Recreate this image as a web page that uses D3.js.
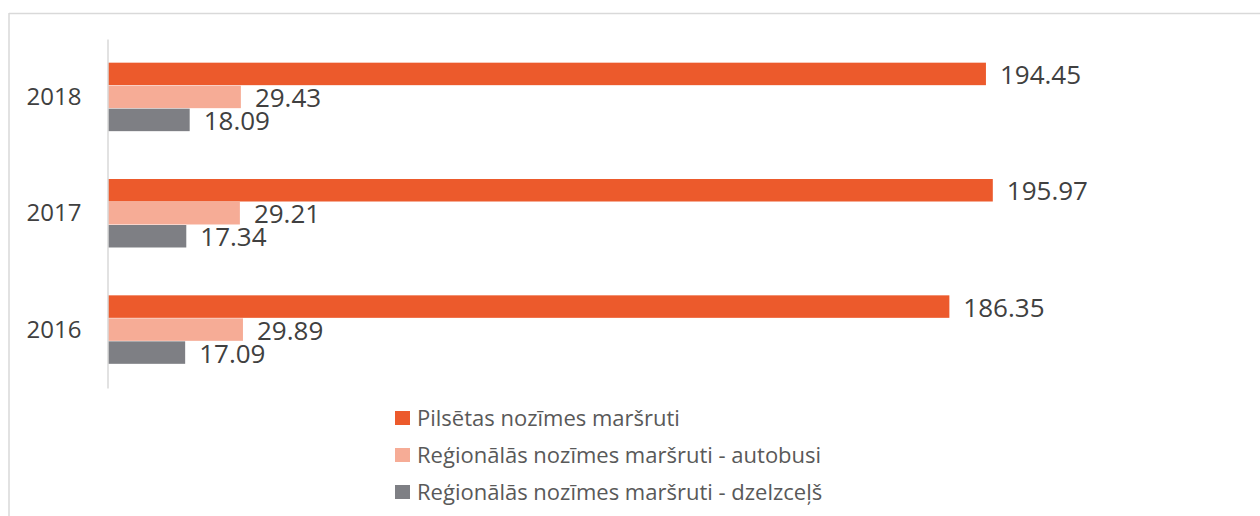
<!DOCTYPE html>
<html>
<head>
<meta charset="utf-8">
<script src="https://cdn.jsdelivr.net/npm/d3@7"></script>
<style>
  body { margin: 0; background: #fff; }
  text { font-family: "Open Sans", sans-serif; fill: #404040; }
</style>
</head>
<body>
<svg id="chart" width="1260" height="516"></svg>
<script>
// data
var years = ["2018", "2017", "2016"];
var seriesNames = ["Pilsētas nozīmes maršruti", "Reģionālās nozīmes maršruti - autobusi", "Reģionālās nozīmes maršruti - dzelzceļš"];
var pilsetas = [194.45, 195.97, 186.35];
var autobusi = [29.43, 29.21, 29.89];
var dzelzcels = [18.09, 17.34, 17.09];
var colors = ["#EC5A2C", "#F6AC96", "#7E7F84"];

var seriesVals = [pilsetas, autobusi, dzelzcels];

var svg = d3.select("#chart");

// chart area border (top + left visible)
svg.append("line").attr("x1", 9).attr("x2", 1260).attr("y1", 13.5).attr("y2", 13.5)
  .attr("stroke", "#d9d9d9").attr("stroke-width", 1.5);
svg.append("line").attr("x1", 9).attr("x2", 9).attr("y1", 13).attr("y2", 516)
  .attr("stroke", "#d9d9d9").attr("stroke-width", 1.5);

var x = d3.scaleLinear().domain([0, 250]).range([108, 108 + 250 * 4.515]);

var y = d3.scaleBand().domain(years).range([39, 388])
  .paddingInner(0.407).paddingOuter(0.2035);

var ySub = d3.scaleBand().domain(d3.range(seriesNames.length)).range([0, y.bandwidth()]);

var rows = [];
years.forEach(function(yr, i) {
  seriesVals.forEach(function(vals, s) {
    rows.push({ year: yr, s: s, v: vals[i] });
  });
});

// bars
var g = svg.append("g");
g.selectAll("rect.bar").data(rows).enter().append("rect")
  .attr("class", "bar")
  .attr("x", x(0))
  .attr("y", function(d) { return y(d.year) + ySub(d.s); })
  .attr("width", function(d) { return x(d.v) - x(0); })
  .attr("height", ySub.bandwidth() - 0.5)
  .attr("fill", function(d) { return colors[d.s]; });

// value labels
g.selectAll("text.val").data(rows).enter().append("text")
  .attr("class", "val")
  .attr("x", function(d) { return x(d.v) + 14; })
  .attr("y", function(d) { return y(d.year) + ySub(d.s) + ySub.bandwidth() / 2; })
  .attr("dy", "0.38em")
  .style("font-size", "26px")
  .text(function(d) { return d.v.toFixed(2); });

// y axis
var yAxis = d3.axisLeft(y).tickSize(0).tickPadding(26);
var ax = svg.append("g").attr("transform", "translate(107.5,0)").call(yAxis);
ax.select(".domain").attr("stroke", "#d9d9d9").attr("stroke-width", 1.5);
ax.selectAll("text").style("font-family", "Open Sans, sans-serif").style("font-size", "24px").attr("fill", "#404040");

// legend
var leg = svg.append("g").selectAll("g").data(seriesNames).enter().append("g")
  .attr("transform", function(d, i) { return "translate(395," + (418 + i * 37) + ")"; });
leg.append("rect").attr("x", 0).attr("y", -7).attr("width", 15).attr("height", 14)
  .attr("fill", function(d, i) { return colors[i]; });
leg.append("text").attr("x", 22).attr("dy", "0.36em")
  .style("font-size", "22px")
  .style("fill", "#595959")
  .text(function(d) { return d; });
</script>
</body>
</html>
